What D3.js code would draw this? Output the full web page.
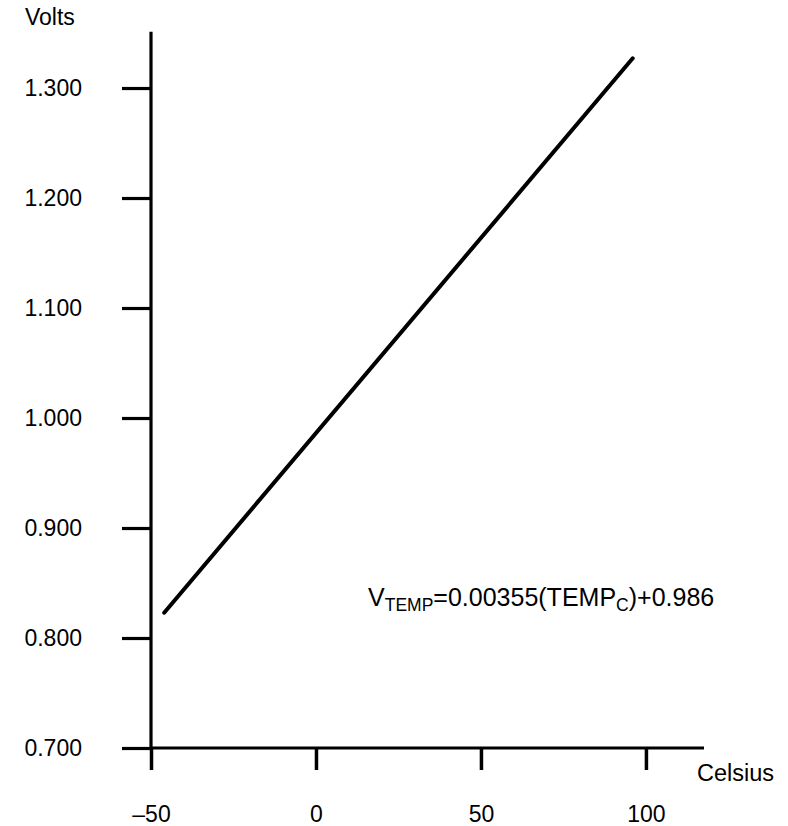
<!DOCTYPE html>
<html>
<head>
<meta charset="utf-8">
<script src="https://cdn.jsdelivr.net/npm/d3@7"></script>
<style>
  html, body { margin: 0; padding: 0; background: #fff; }
  svg { display: block; }
  text { font-family: "Liberation Sans", Arial, Helvetica, sans-serif; fill: #000; }
</style>
</head>
<body>
<svg id="chart" width="788" height="826"></svg>
<script>
// ---- data ----
const celsius = [-46, 96];
const volts = [0.823, 1.327];
const xTickValues = [-50, 0, 50, 100];
const xTickLabels = ["\u201350", "0", "50", "100"];
const yTickValues = [0.7, 0.8, 0.9, 1.0, 1.1, 1.2, 1.3];
const yTickLabels = ["0.700", "0.800", "0.900", "1.000", "1.100", "1.200", "1.300"];
const xTitle = "Celsius";
const yTitle = "Volts";

// ---- layout ----
const svg = d3.select("#chart");
const x = d3.scaleLinear().domain([-50, 117.6]).range([151, 704]);
const y = d3.scaleLinear().domain([0.7, 1.3512]).range([748, 31.7]);
const FS = 23;

// x axis
const xAxis = d3.axisBottom(x)
  .tickValues(xTickValues)
  .tickFormat((d, i) => xTickLabels[i])
  .tickSize(22)
  .tickSizeOuter(0)
  .tickPadding(36);
const gx = svg.append("g").attr("transform", `translate(0,${y(0.7)})`).call(xAxis);
gx.select(".domain").attr("stroke", "#000").attr("stroke-width", 3.2)
  .attr("d", `M${x.range()[0]},0H${x.range()[1]}`);
gx.selectAll(".tick line").attr("stroke", "#000").attr("stroke-width", 3.5);
gx.selectAll(".tick text").attr("font-size", FS).attr("font-family", "Liberation Sans, Arial, sans-serif").attr("fill", "#000");

// y axis
const yAxis = d3.axisLeft(y)
  .tickValues(yTickValues)
  .tickFormat((d, i) => yTickLabels[i])
  .tickSize(29)
  .tickSizeOuter(0)
  .tickPadding(40);
const gy = svg.append("g").attr("transform", `translate(${x(-50)},0)`).call(yAxis);
gy.select(".domain").attr("stroke", "#000").attr("stroke-width", 3.2)
  .attr("d", `M0,${y.range()[0]}V${y.range()[1]}`);
gy.selectAll(".tick line").attr("stroke", "#000").attr("stroke-width", 3.2);
gy.selectAll(".tick text").attr("font-size", FS).attr("font-family", "Liberation Sans, Arial, sans-serif").attr("fill", "#000").attr("dy", "0.33em");

// axis titles
svg.append("text").attr("x", 25).attr("y", 25).attr("font-size", FS).text(yTitle);
svg.append("text").attr("x", 697).attr("y", 781).attr("font-size", 23.5).text(xTitle);

// line
const pts = celsius.map((c, i) => [c, volts[i]]);
svg.append("path")
  .datum(pts)
  .attr("fill", "none")
  .attr("stroke", "#000")
  .attr("stroke-width", 4)
  .attr("stroke-linecap", "round")
  .attr("d", d3.line().x(d => x(d[0])).y(d => y(d[1])));

// equation annotation
const eq = svg.append("text").attr("x", 368).attr("y", 606).attr("font-size", 25);
eq.append("tspan").text("V");
eq.append("tspan").attr("font-size", 17.5).attr("dy", 5).text("TEMP");
eq.append("tspan").attr("dy", -5).text("=0.00355(TEMP");
eq.append("tspan").attr("font-size", 17.5).attr("dy", 5).text("C");
eq.append("tspan").attr("dy", -5).text(")+0.986");
</script>
</body>
</html>
